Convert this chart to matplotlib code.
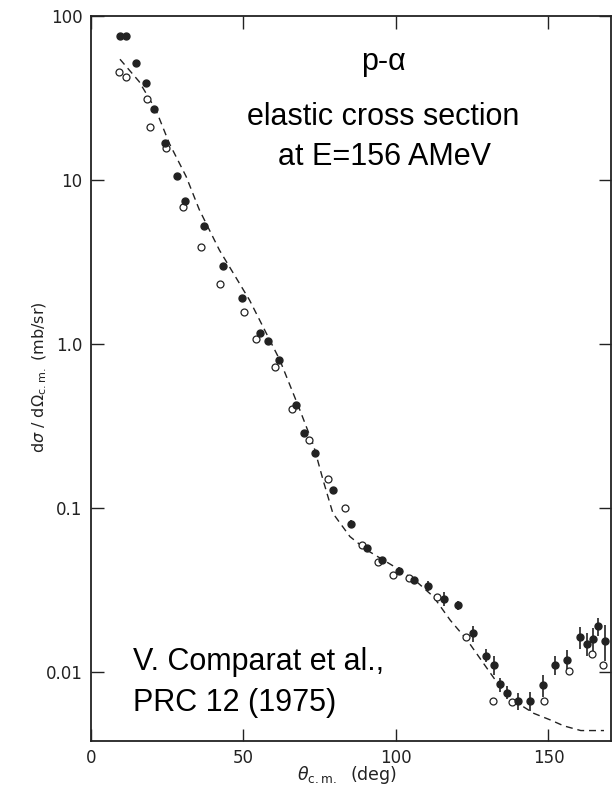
import numpy as np
import matplotlib
matplotlib.use('Agg')
import matplotlib.pyplot as plt
from matplotlib.ticker import FixedLocator, FixedFormatter, NullLocator

# p-alpha elastic cross section, 156 AMeV
theta_filled = [9.5, 11.5, 14.7, 18.0, 20.7, 24.3, 28.1, 30.7, 36.9, 43.2,
                49.4, 55.4, 57.9, 61.5, 67.3, 69.9, 73.4, 79.2, 85.1, 90.4,
                95.5, 100.9, 105.9, 110.6, 115.6, 120.3, 125.1, 129.6, 132.0, 134.2,
                136.3, 139.9, 144.1, 148.2, 152.0, 156.2, 160.3, 162.7, 164.5, 166.1,
                168.4]
xs_filled = [75, 75, 51.9, 39.2, 27.0, 16.9, 10.6, 7.45, 5.25, 3.0,
             1.91, 1.16, 1.05, 0.795, 0.425, 0.285, 0.217, 0.129, 0.080, 0.0568,
             0.048, 0.0415, 0.0364, 0.0334, 0.028, 0.0255, 0.0172, 0.0126, 0.0111, 0.0084,
             0.0075, 0.0067, 0.0067, 0.0083, 0.0111, 0.0118, 0.0163, 0.0149, 0.0159, 0.019,
             0.0155]
# relative errors
rel_err_filled = [0, 0, 0, 0, 0, 0, 0, 0, 0, 0,
                  0, 0, 0, 0.03, 0.03, 0.03, 0.03, 0.04, 0.05, 0.04,
                  0.05, 0.05, 0.05, 0.07, 0.10, 0.06, 0.11, 0.09, 0.13, 0.10,
                  0.09, 0.12, 0.13, 0.15, 0.13, 0.16, 0.15, 0.16, 0.16, 0.13,
                  0.25]

theta_open = [9.3, 11.4, 18.2, 19.4, 24.6, 30.3, 36.2, 42.3, 50.1, 54.2,
              60.3, 65.8, 71.4, 77.6, 83.2, 88.7, 94.0, 98.9, 104.2, 113.4,
              122.9, 131.8, 138.2, 148.6, 156.8, 164.2, 167.9]
xs_open = [45.6, 42.6, 31, 21.1, 15.7, 6.87, 3.9, 2.32, 1.56, 1.08,
           0.724, 0.40, 0.26, 0.151, 0.10, 0.0597, 0.0467, 0.039, 0.0372, 0.0286,
           0.0163, 0.0067, 0.0066, 0.0067, 0.0102, 0.0128, 0.0111]

theta_calc = [9.5, 15.8, 21.3, 25.7, 31.2, 35.5, 42.1, 52.0, 61.9, 68.4,
              73.0, 76.1, 79.3, 84.9, 90.4, 101.3, 106.8, 112.3, 117.8, 123.3,
              128.7, 134.2, 139.7, 145.2, 150.7, 155.0, 160.6, 168.2]
xs_calc = [54.5, 39.8, 26.7, 16.7, 10.5, 6.6, 3.74, 1.85, 0.80, 0.40,
           0.24, 0.148, 0.093, 0.067, 0.0555, 0.0419, 0.0355, 0.0288, 0.0207, 0.0157,
           0.0113, 0.0081, 0.0065, 0.0056, 0.0051, 0.0047, 0.0044, 0.0044]

ytick_vals = [0.01, 0.1, 1.0, 10, 100]
ytick_labels = ['0.01', '0.1', '1.0', '10', '100']
xtick_vals = [0, 50, 100, 150]

ink = '#222222'

fig = plt.figure(figsize=(6.12, 7.86), dpi=100)
ax = fig.add_axes([91/612, 1 - 741/786, 520/612, 725/786])

ax.plot(theta_calc, xs_calc, ls=(0, (5, 3.5)), color=ink, lw=1.0)

yf = np.array(xs_filled)
ef = yf * np.array(rel_err_filled)
ax.errorbar(theta_filled, yf, yerr=ef, fmt='o', ms=5, color=ink,
            mec=ink, elinewidth=1.2, capsize=0)
ax.plot(theta_open, xs_open, 'o', ms=5, mfc='white', mec=ink, mew=0.9)

ax.set_yscale('log')
ax.set_xlim(0, 170.5)
ax.set_ylim(0.0038, 100)

ax.yaxis.set_major_locator(FixedLocator(ytick_vals))
ax.yaxis.set_major_formatter(FixedFormatter(ytick_labels))
ax.yaxis.set_minor_locator(NullLocator())
ax.set_xticks(xtick_vals)
ax.set_xticklabels([str(v) for v in xtick_vals])

ax.tick_params(direction='in', length=9, width=1.0, color=ink,
               labelsize=12, labelcolor=ink, top=True, right=True, pad=6)
for s in ax.spines.values():
    s.set_linewidth(1.3)
    s.set_color(ink)

fig.text(40/612, 0.52, r'd$\sigma$ / d$\Omega_{\rm c.m.}$ (mb/sr)',
         rotation=90, ha='center', va='center', fontsize=11.5, color=ink)
fig.text(347/612, 1 - 775/786, r'$\theta_{\rm c.m.}$  (deg)',
         ha='center', va='center', fontsize=12.5, color=ink)

big = ['Liberation Sans', 'DejaVu Sans']
fig.text(383/612, 1 - 62/786, 'p-α', ha='center', va='center',
         fontsize=22, family=big)
fig.text(383/612, 1 - 117/786, 'elastic cross section', ha='center',
         va='center', fontsize=22, family=big)
fig.text(384/612, 1 - 157/786, 'at E=156 AMeV', ha='center',
         va='center', fontsize=22, family=big)
fig.text(133/612, 1 - 662/786, 'V. Comparat et al.,', ha='left',
         va='center', fontsize=22, family=big)
fig.text(133/612, 1 - 703/786, 'PRC 12 (1975)', ha='left',
         va='center', fontsize=22, family=big)

fig.savefig('out.png', dpi=100)
